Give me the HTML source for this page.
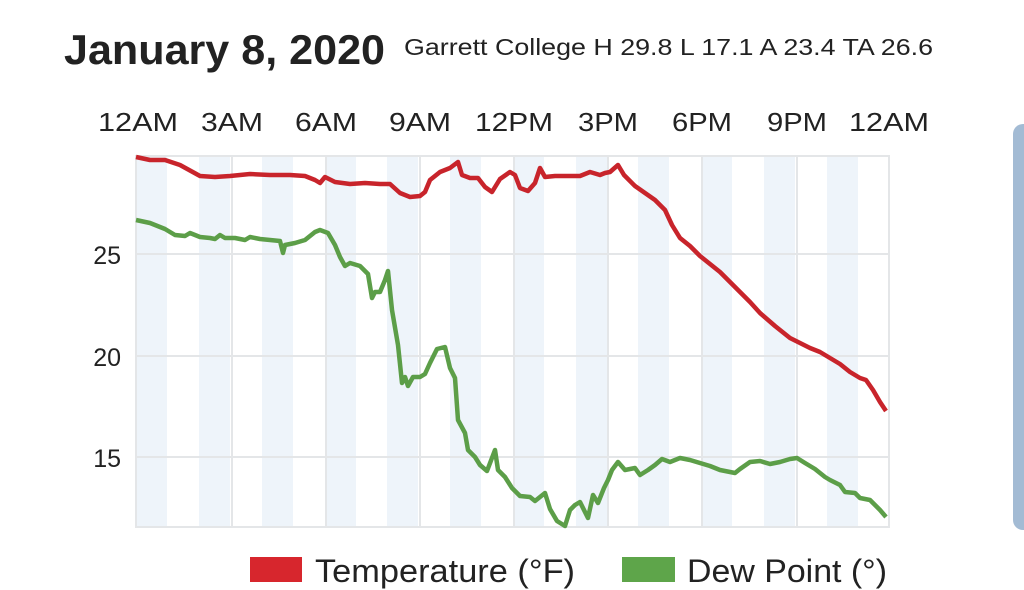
<!DOCTYPE html>
<html><head><meta charset="utf-8"><style>
body{margin:0;width:1024px;height:590px;background:#fff;overflow:hidden;font-family:"Liberation Sans",Arial,sans-serif;position:relative}
.p{position:absolute;right:0;top:124px;width:11px;height:406px;background:#a3bbd4;border-radius:10px 0 0 10px}
</style></head><body>
<div class="p"></div>
<svg width="1024" height="590" style="position:absolute;left:0;top:0">
<g font-family="Liberation Sans,Arial,sans-serif" fill="#222">
<text x="64" y="64" font-size="42" font-weight="bold" textLength="321" lengthAdjust="spacingAndGlyphs">January 8, 2020</text>
<text x="404" y="55" font-size="23" textLength="529" lengthAdjust="spacingAndGlyphs">Garrett College H 29.8 L 17.1 A 23.4 TA 26.6</text>
</g>
<g fill="#eef4fa">
<rect x="136" y="156" width="31" height="371"/><rect x="199" y="156" width="31" height="371"/><rect x="262" y="156" width="31" height="371"/><rect x="325" y="156" width="31" height="371"/><rect x="387" y="156" width="31" height="371"/><rect x="450" y="156" width="31" height="371"/><rect x="513" y="156" width="31" height="371"/><rect x="576" y="156" width="31" height="371"/><rect x="638" y="156" width="31" height="371"/><rect x="701" y="156" width="31" height="371"/><rect x="764" y="156" width="31" height="371"/><rect x="827" y="156" width="31" height="371"/>
</g>
<g stroke="#e4e6e8" stroke-width="2" fill="none">
<rect x="136" y="156" width="753" height="371"/>
<line x1="136" y1="254" x2="889" y2="254"/><line x1="136" y1="356" x2="889" y2="356"/><line x1="136" y1="457" x2="889" y2="457"/>
<line x1="232" y1="156" x2="232" y2="527"/><line x1="326" y1="156" x2="326" y2="527"/><line x1="420" y1="156" x2="420" y2="527"/><line x1="514" y1="156" x2="514" y2="527"/><line x1="608" y1="156" x2="608" y2="527"/><line x1="702" y1="156" x2="702" y2="527"/><line x1="797" y1="156" x2="797" y2="527"/>
</g>
<polyline fill="none" stroke="#c8242b" stroke-width="4.5" stroke-linejoin="round" points="136,157 150,160 165,160 180,165 200,176 215,177 230,176 250,174 270,175 290,175 305,176 315,180 320,183 325,177 335,182 350,184 365,183 380,184 390,184 400,193 410,197 420,196 425,192 430,180 440,172 450,168 458,162 462,175 470,178 478,178 485,187 492,192 500,179 510,172 515,175 520,188 528,191 535,183 540,168 545,177 555,176 570,176 580,176 590,172 600,175 605,173 610,172 618,165 624,175 635,186 645,193 655,200 665,210 672,225 680,238 690,246 700,256 710,264 720,272 735,287 750,302 760,313 775,326 790,338 800,343 810,348 820,352 830,358 840,364 850,372 860,378 866,380 873,390 880,402 886,411"/>
<polyline fill="none" stroke="#5c9e48" stroke-width="4.5" stroke-linejoin="round" points="136,220 150,223 160,227 165,229 175,235 185,236 190,233 200,237 210,238 215,239 220,235 225,238 235,238 245,240 250,237 260,239 270,240 280,241 283,253 285,245 295,243 305,240 315,232 320,230 328,233 335,245 340,257 345,266 350,263 360,266 368,274 372,298 375,292 380,292 385,280 388,271 392,310 398,345 402,383 405,377 408,386 413,377 420,377 425,374 430,363 437,349 445,347 450,368 455,378 458,420 465,433 468,450 475,457 480,465 487,471 495,450 498,470 505,477 512,488 520,496 530,497 535,501 545,493 550,509 557,521 565,526 570,510 575,505 580,502 588,518 593,495 598,503 604,488 608,480 612,470 618,462 625,470 635,468 640,475 648,470 655,465 662,459 670,462 680,458 690,460 700,463 710,466 720,470 735,473 740,469 750,462 760,461 770,464 780,462 790,459 797,458 805,463 815,469 825,477 830,480 840,485 845,492 855,493 860,498 870,500 880,510 886,517"/>
<g font-family="Liberation Sans,Arial,sans-serif" font-size="26" fill="#222" text-anchor="middle" lengthAdjust="spacingAndGlyphs">
<text x="138" y="131" textLength="80" lengthAdjust="spacingAndGlyphs">12AM</text><text x="232" y="131" textLength="62" lengthAdjust="spacingAndGlyphs">3AM</text><text x="326" y="131" textLength="62" lengthAdjust="spacingAndGlyphs">6AM</text><text x="420" y="131" textLength="62" lengthAdjust="spacingAndGlyphs">9AM</text><text x="514" y="131" textLength="78" lengthAdjust="spacingAndGlyphs">12PM</text><text x="608" y="131" textLength="60" lengthAdjust="spacingAndGlyphs">3PM</text><text x="702" y="131" textLength="60" lengthAdjust="spacingAndGlyphs">6PM</text><text x="797" y="131" textLength="60" lengthAdjust="spacingAndGlyphs">9PM</text><text x="889" y="131" textLength="80" lengthAdjust="spacingAndGlyphs">12AM</text>
</g>
<g font-family="Liberation Sans,Arial,sans-serif" font-size="25" fill="#222" text-anchor="end">
<text x="121" y="264">25</text><text x="121" y="366">20</text><text x="121" y="467">15</text>
</g>
<rect x="250" y="557" width="52" height="25" fill="#d7262d"/>
<rect x="622" y="557" width="53" height="25" fill="#5ea54a"/>
<g font-family="Liberation Sans,Arial,sans-serif" font-size="32" fill="#222">
<text x="315" y="582" textLength="260" lengthAdjust="spacingAndGlyphs">Temperature (°F)</text><text x="687" y="582" textLength="200" lengthAdjust="spacingAndGlyphs">Dew Point (°)</text>
</g>
</svg>
</body></html>
